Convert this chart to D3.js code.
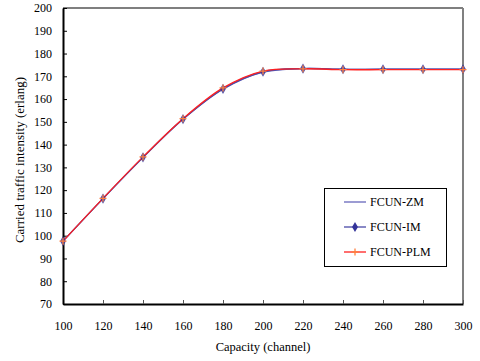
<!DOCTYPE html>
<html>
<head>
<meta charset="utf-8">
<script src="https://cdn.jsdelivr.net/npm/d3@7"></script>
<style>
  body { margin: 0; background: #fff; }
  svg { display: block; font-family: "Liberation Serif", "Times New Roman", serif; }
</style>
</head>
<body>
<svg id="chart" width="480" height="361"></svg>
<script>
const capacity = [100, 120, 140, 160, 180, 200, 220, 240, 260, 280, 300];
const fcunZM = [97.6, 116.3, 134.3, 151.1, 164.3, 171.8, 173.4, 173.1, 173.1, 173.1, 173.1];
const fcunIM = [97.6, 116.3, 134.4, 151.2, 164.5, 172.0, 173.4, 173.1, 173.1, 173.1, 173.1];
const fcunPLM = [97.6, 116.4, 134.6, 151.4, 164.9, 172.3, 173.3, 172.9, 172.9, 172.9, 172.9];
const yTicks = d3.range(70, 201, 10);
const xTicks = d3.range(100, 301, 20);

const margin = { top: 8, right: 17, bottom: 57, left: 63 };
const width = 480;
const height = 361;

const x = d3.scaleLinear().domain([100, 300]).range([margin.left, width - margin.right]);
const y = d3.scaleLinear().domain([70, 200]).range([height - margin.bottom, margin.top]);

const svg = d3.select("#chart");

// top and right border
svg.append("line")
  .attr("x1", margin.left).attr("x2", width - margin.right)
  .attr("y1", margin.top).attr("y2", margin.top)
  .attr("stroke", "#000").attr("stroke-width", 1.2);
svg.append("line")
  .attr("x1", width - margin.right).attr("x2", width - margin.right)
  .attr("y1", margin.top).attr("y2", height - margin.bottom)
  .attr("stroke", "#808080").attr("stroke-width", 2);

// X axis (ticks point inward)
const xAxis = svg.append("g")
  .attr("transform", `translate(0,${height - margin.bottom})`)
  .call(d3.axisBottom(x).tickValues(xTicks).tickSizeInner(-4).tickSizeOuter(0).tickPadding(17))
  .attr("font-family", null)
  .attr("font-size", 12);
xAxis.select(".domain").attr("stroke-width", 2);
xAxis.selectAll(".tick line").attr("stroke", "#555");
xAxis.selectAll("text").attr("fill", "#000");

// Y axis (ticks point inward)
const yAxis = svg.append("g")
  .attr("transform", `translate(${margin.left},0)`)
  .call(d3.axisLeft(y).tickValues(yTicks).tickSizeInner(-4).tickSizeOuter(0).tickPadding(11))
  .attr("font-family", null)
  .attr("font-size", 12);
yAxis.select(".domain").attr("stroke-width", 2);
yAxis.selectAll("text").attr("fill", "#000");

// axis labels
svg.append("text")
  .attr("x", (margin.left + width - margin.right) / 2)
  .attr("y", 351)
  .attr("text-anchor", "middle")
  .style("font-size", "12.5px")
  .text("Capacity (channel)");

svg.append("text")
  .attr("transform", "rotate(-90)")
  .attr("x", -160)
  .attr("y", 24)
  .attr("text-anchor", "middle")
  .style("font-size", "13px")
  .text("Carried traffic intensity (erlang)");

const line = d3.line()
  .x((d, i) => x(capacity[i]))
  .y((d) => y(d))
  .curve(d3.curveCatmullRom.alpha(0.5));

const series = [
  { name: "FCUN-ZM", values: fcunZM, color: "#6666bb", marker: "none" },
  { name: "FCUN-IM", values: fcunIM, color: "#4a4aa8", marker: "diamond" },
  { name: "FCUN-PLM", values: fcunPLM, color: "#ff2020", marker: "plus" },
];

const diamond = d3.symbol().type(d3.symbolDiamond).size(30);

series.forEach((s) => {
  svg.append("path")
    .datum(s.values)
    .attr("d", line)
    .attr("fill", "none")
    .attr("stroke", s.color)
    .attr("stroke-width", 1.3);
});

// markers
series.forEach((s) => {
  if (s.marker === "diamond") {
    svg.append("g").selectAll("path")
      .data(s.values)
      .join("path")
      .attr("transform", (d, i) => `translate(${x(capacity[i])},${y(d)})`)
      .attr("d", diamond)
      .attr("fill", "#333399")
      .attr("opacity", 0.85);
  } else if (s.marker === "plus") {
    const g = svg.append("g");
    s.values.forEach((d, i) => {
      const cx = x(capacity[i]), cy = y(d);
      g.append("path")
        .attr("d", `M${cx - 3.5},${cy}H${cx + 3.5}M${cx},${cy - 3.5}V${cy + 3.5}`)
        .attr("stroke", "#ff8040")
        .attr("stroke-width", 1.3);
    });
  }
});

// legend
const legend = svg.append("g");
legend.append("rect")
  .attr("x", 324.5).attr("y", 188.5)
  .attr("width", 122).attr("height", 78)
  .attr("fill", "#fff").attr("stroke", "#000").attr("stroke-width", 1);

series.forEach((s, i) => {
  const ly = 202 + i * 25;
  legend.append("line")
    .attr("x1", 344).attr("x2", 366)
    .attr("y1", ly).attr("y2", ly)
    .attr("stroke", s.color).attr("stroke-width", 1.3);
  if (s.marker === "diamond") {
    legend.append("path")
      .attr("transform", `translate(355,${ly})`)
      .attr("d", diamond)
      .attr("fill", "#333399");
  } else if (s.marker === "plus") {
    legend.append("path")
      .attr("d", `M351.5,${ly}H358.5M355,${ly - 3.5}V${ly + 3.5}`)
      .attr("stroke", "#ff8040").attr("stroke-width", 1.3);
  }
  legend.append("text")
    .attr("x", 370).attr("y", ly + 4)
    .style("font-size", "12px")
    .text(s.name);
});
</script>
</body>
</html>
